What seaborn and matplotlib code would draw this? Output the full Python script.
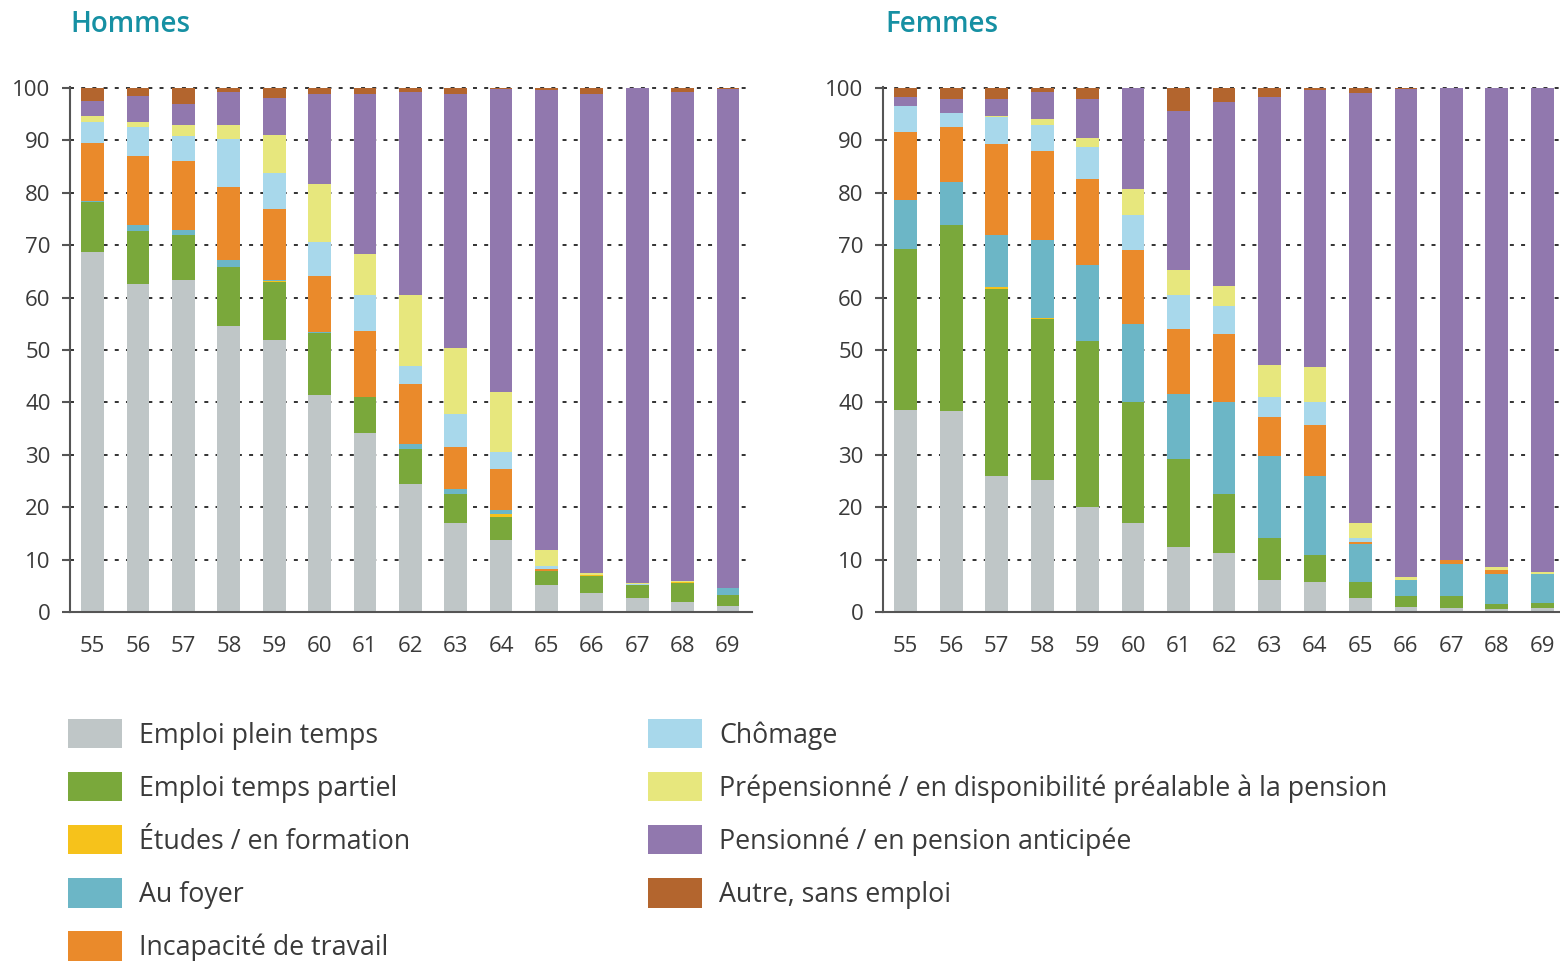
import numpy as np
import pandas as pd
import seaborn as sns
import matplotlib.pyplot as plt
from matplotlib.patches import Patch
from matplotlib.ticker import MultipleLocator

ages = list(range(55, 70))

statuts = ['Emploi plein temps', 'Emploi temps partiel', 'Études / en formation', 'Au foyer',
           'Incapacité de travail', 'Chômage', 'Prépensionné / en disponibilité préalable à la pension',
           'Pensionné / en pension anticipée', 'Autre, sans emploi']
couleurs = ['#bfc6c7', '#7aa83b', '#f6c21b', '#6cb6c6', '#ea8a2b', '#a8d8eb', '#e7e77d', '#9178ae', '#b3652e']

# Hommes, part (%) par statut, âges 55 -> 69
plein_h = [68.7, 62.6, 63.4, 54.6, 51.9, 41.4, 34.1, 24.4, 16.9, 13.7, 5.2, 3.7, 2.6, 2.0, 1.1]
partiel_h = [9.5, 10.1, 8.5, 11.3, 11.1, 11.8, 7.0, 6.7, 5.6, 4.5, 2.7, 3.2, 2.6, 3.6, 2.2]
etudes_h = [0, 0, 0, 0, 0.2, 0, 0, 0, 0, 0.5, 0, 0.2, 0, 0.2, 0]
foyer_h = [0.3, 1.2, 1.1, 1.3, 0.2, 0.3, 0, 1.0, 0.9, 0.8, 0, 0, 0, 0, 1.3]
incap_h = [11.1, 13.1, 13.0, 14.0, 13.5, 10.6, 12.5, 11.5, 8.0, 7.8, 0.3, 0, 0, 0, 0]
chomage_h = [4.0, 5.5, 4.8, 9.0, 6.8, 6.5, 6.9, 3.4, 6.4, 3.2, 0.5, 0, 0.2, 0, 0]
prepens_h = [1.0, 1.0, 2.1, 2.8, 7.4, 11.1, 7.8, 13.5, 12.6, 11.5, 3.2, 0.3, 0.2, 0.2, 0]
pension_h = [3.0, 4.9, 4.1, 6.2, 7.0, 17.2, 30.6, 38.8, 48.4, 57.9, 87.8, 91.4, 94.4, 93.3, 95.3]
autre_h = [2.4, 1.6, 3.0, 0.8, 1.9, 1.1, 1.1, 0.7, 1.2, 0.1, 0.3, 1.2, 0, 0.7, 0.1]

# Femmes
plein_f = [38.5, 38.4, 25.9, 25.1, 20.0, 17.0, 12.5, 11.3, 6.2, 5.7, 2.6, 1.0, 0.7, 0.5, 0.7]
partiel_f = [30.8, 35.4, 35.8, 30.8, 31.7, 23.0, 16.7, 11.3, 8.0, 5.1, 3.2, 2.1, 2.3, 1.1, 1.1]
etudes_f = [0, 0, 0.3, 0.3, 0, 0, 0, 0, 0, 0, 0, 0, 0, 0, 0]
foyer_f = [9.4, 8.2, 9.9, 14.8, 14.5, 15.0, 12.4, 17.5, 15.6, 15.2, 7.2, 3.1, 6.2, 5.6, 5.5]
incap_f = [13.0, 10.5, 17.5, 17.0, 16.4, 14.0, 12.5, 13.0, 7.4, 9.7, 0.4, 0, 0.8, 0.8, 0]
chomage_f = [4.9, 2.7, 5.0, 4.9, 6.1, 6.7, 6.4, 5.3, 3.8, 4.3, 0.7, 0, 0, 0, 0]
prepens_f = [0, 0, 0.3, 1.2, 1.7, 5.1, 4.7, 3.9, 6.1, 6.8, 2.9, 0.5, 0, 0.5, 0.4]
pension_f = [1.6, 2.7, 3.3, 5.2, 7.5, 19.2, 30.5, 35.1, 51.1, 52.9, 82.1, 93.2, 90.0, 91.5, 92.3]
autre_f = [1.8, 2.1, 2.0, 0.7, 2.1, 0, 4.3, 2.6, 1.8, 0.3, 0.9, 0.1, 0, 0, 0]

series_h = [plein_h, partiel_h, etudes_h, foyer_h, incap_h, chomage_h, prepens_h, pension_h, autre_h]
series_f = [plein_f, partiel_f, etudes_f, foyer_f, incap_f, chomage_f, prepens_f, pension_f, autre_f]


def to_long(series):
    rows = []
    for statut, vals in zip(statuts, series):
        for age, v in zip(ages, vals):
            rows.append({'age': age, 'statut': statut, 'pct': v})
    return pd.DataFrame(rows)


sns.set_style('white')
plt.rcParams['font.family'] = ['Open Sans', 'DejaVu Sans']

palette = dict(zip(statuts, couleurs))
text_col = '#3a3a3a'
axis_col = '#555555'

fig = plt.figure(figsize=(15.6, 9.61), dpi=100)
ax_h = fig.add_axes([70 / 1560, 1 - 612 / 961, 682 / 1560, 525 / 961])
ax_f = fig.add_axes([883 / 1560, 1 - 612 / 961, 677 / 1560, 525 / 961])

for ax, series, xmax in [(ax_h, series_h, 69.53), (ax_f, series_f, 69.39)]:
    df = to_long(series)
    # seaborn stacks the first hue level on top, so reverse the order
    sns.histplot(data=df, x='age', hue='statut', weights='pct', multiple='stack',
                 discrete=True, shrink=0.5, hue_order=statuts[::-1], palette=palette,
                 linewidth=0, alpha=1, legend=False, ax=ax)
    ax.set_xlim(54.5, xmax)
    ax.set_ylim(0, 100.2)
    ax.set_xlabel('')
    ax.set_ylabel('')
    ax.set_axisbelow(True)
    ax.set_yticks(range(0, 101, 10))
    ax.yaxis.grid(True, color='#222222', linestyle=(0, (2.2, 4)), linewidth=1.3)
    ax.xaxis.grid(False)
    for s in ['top', 'right']:
        ax.spines[s].set_visible(False)
    for s in ['left', 'bottom']:
        ax.spines[s].set_color(axis_col)
        ax.spines[s].set_linewidth(1.5)
    ax.set_xticks(ages)
    ax.xaxis.set_minor_locator(MultipleLocator(1, offset=0.5))
    ax.tick_params(axis='x', which='major', length=0, pad=17, labelsize=16, labelcolor=text_col)
    ax.tick_params(axis='x', which='minor', direction='in', length=11, width=1.5, color=axis_col)
    ax.tick_params(axis='y', which='major', direction='out', length=6, width=1.5, color=axis_col,
                   pad=8, labelsize=16, labelcolor=text_col, left=True)

title_col = '#1690a3'
fig.text(70 / 1560, 1 - 24 / 961, 'Hommes', fontsize=20, fontweight='semibold', color=title_col,
         ha='left', va='center')
fig.text(885 / 1560, 1 - 24 / 961, 'Femmes', fontsize=20, fontweight='semibold', color=title_col,
         ha='left', va='center')

handles = [Patch(facecolor=c, edgecolor='none', label=s) for s, c in zip(statuts, couleurs)]
leg_kw = dict(loc='upper left', frameon=False, fontsize=19.3, handlelength=2.0, handleheight=1.3,
              handletextpad=0.66, labelspacing=0.84, borderpad=0, borderaxespad=0,
              labelcolor=text_col)
fig.legend(handles=handles[:5], bbox_to_anchor=(68 / 1560, 1 - 719 / 961), **leg_kw)
fig.legend(handles=handles[5:], bbox_to_anchor=(648 / 1560, 1 - 719 / 961), **leg_kw)

fig.savefig('out.png', dpi=100)
